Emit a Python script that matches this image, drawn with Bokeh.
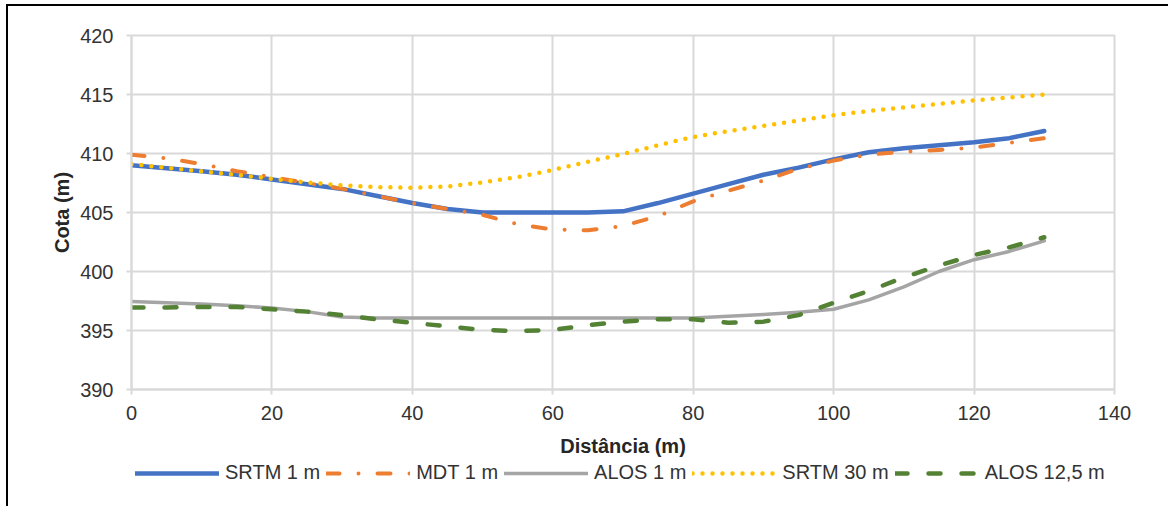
from bokeh.plotting import figure
from bokeh.layouts import column
from bokeh.models import Range1d, FixedTicker, Legend, LegendItem
from bokeh.embed import file_html
from bokeh.resources import INLINE

# ---- data ----
distancia = [0, 5, 10, 15, 20, 25, 30, 35, 40, 45, 50, 55, 60, 65, 70,
             75, 80, 85, 90, 95, 100, 105, 110, 115, 120, 125, 130]

srtm_1m = [409.0, 408.75, 408.5, 408.2, 407.8, 407.4, 407.0, 406.4, 405.8,
           405.3, 405.0, 405.0, 405.0, 405.0, 405.1, 405.8, 406.6, 407.4,
           408.2, 408.8, 409.5, 410.1, 410.45, 410.7, 410.95, 411.3, 411.9]

mdt_1m = [409.9, 409.6, 409.1, 408.5, 408.0, 407.5, 407.0, 406.4, 405.8,
          405.3, 404.8, 404.0, 403.55, 403.5, 403.85, 404.7, 405.95, 406.85,
          407.7, 408.7, 409.4, 409.9, 410.15, 410.3, 410.5, 410.9, 411.3]

alos_1m = [397.45, 397.35, 397.25, 397.1, 396.9, 396.6, 396.15, 396.05, 396.05,
           396.05, 396.05, 396.05, 396.05, 396.05, 396.05, 396.05, 396.05, 396.2,
           396.35, 396.55, 396.8, 397.6, 398.7, 400.0, 401.0, 401.7, 402.6]

srtm_30m = [409.1, 408.8, 408.5, 408.2, 407.85, 407.55, 407.3, 407.15, 407.1,
            407.2, 407.55, 408.0, 408.6, 409.3, 409.95, 410.7, 411.4, 411.9,
            412.35, 412.8, 413.25, 413.6, 413.9, 414.2, 414.5, 414.75, 415.0]

alos_12_5m = [396.95, 396.95, 397.0, 397.0, 396.8, 396.6, 396.3, 395.95, 395.65,
              395.35, 395.05, 394.95, 395.05, 395.45, 395.75, 395.95, 395.95, 395.65,
              395.75, 396.3, 397.35, 398.35, 399.5, 400.5, 401.4, 402.05, 402.9]

series_labels = ["SRTM 1 m", "MDT 1 m", "ALOS 1 m", "SRTM 30 m", "ALOS 12,5 m"]
x_ticks = [0, 20, 40, 60, 80, 100, 120, 140]
y_ticks = [390, 395, 400, 405, 410, 415, 420]
x_title = "Distância (m)"
y_title = "Cota (m)"

FONT = "Liberation Sans"
GRID = "#d9d9d9"
TXT = "#333333"

styles = [
    dict(line_color="#4472C4", line_width=4.5, line_cap="round", line_join="round"),
    dict(line_color="#ED7D31", line_width=4, line_cap="round", line_join="round",
         line_dash="13 19 0 19"),
    dict(line_color="#A5A5A5", line_width=3.5, line_cap="round", line_join="round"),
    dict(line_color="#FFC000", line_width=4.5, line_cap="round", line_join="round",
         line_dash="0 10"),
    dict(line_color="#548235", line_width=4.5, line_cap="round", line_join="round",
         line_dash="12 21"),
]
series_values = [srtm_1m, mdt_1m, alos_1m, srtm_30m, alos_12_5m]

# ---- main chart ----
p = figure(width=1160, height=453,
           x_range=Range1d(0, 140), y_range=Range1d(390, 420),
           output_backend="svg", toolbar_location=None,
           min_border_left=123, min_border_right=54,
           min_border_top=29, min_border_bottom=70)

p.background_fill_color = "white"
p.border_fill_color = "white"
p.outline_line_color = GRID
p.outline_line_width = 2

for g in (p.xgrid, p.ygrid):
    g.grid_line_color = GRID
    g.grid_line_width = 2

p.xaxis.ticker = FixedTicker(ticks=x_ticks)
p.yaxis.ticker = FixedTicker(ticks=y_ticks)

for ax in (p.xaxis, p.yaxis):
    ax.axis_line_color = GRID
    ax.axis_line_width = 2
    ax.major_tick_line_color = GRID
    ax.major_tick_line_width = 2
    ax.major_tick_out = 5
    ax.major_tick_in = 0
    ax.minor_tick_line_color = None
    ax.major_label_text_font = FONT
    ax.major_label_text_font_size = "20px"
    ax.major_label_text_color = TXT
    ax.axis_label_text_font = FONT
    ax.axis_label_text_font_size = "20px"
    ax.axis_label_text_font_style = "bold"
    ax.axis_label_text_color = "#262626"

p.xaxis.axis_label = x_title
p.yaxis.axis_label = y_title
p.xaxis.major_label_standoff = 11
p.xaxis.axis_label_standoff = 12
p.yaxis.major_label_standoff = 13
p.yaxis.axis_label_standoff = 4

for vals, st in zip(series_values, styles):
    p.line(distancia, vals, **st)

# ---- legend strip (its own canvas below the chart) ----
q = figure(width=1160, height=47, x_range=Range1d(0, 1), y_range=Range1d(0, 1),
           output_backend="svg", toolbar_location=None,
           x_axis_location=None, y_axis_location=None,
           min_border_left=0, min_border_right=0, min_border_top=0, min_border_bottom=0)
q.outline_line_color = None
q.background_fill_color = "white"
q.border_fill_color = "white"
q.xgrid.visible = False
q.ygrid.visible = False

# off-range single-point proxies: they only supply the legend swatches
leg_renderers = [q.line([-1], [-1], **st) for st in styles]
legend = Legend(items=[LegendItem(label=lab, renderers=[r])
                       for lab, r in zip(series_labels, leg_renderers)],
                orientation="horizontal", location=(4, 22),
                glyph_width=84, glyph_height=20, label_standoff=6, spacing=6,
                padding=0, margin=0,
                label_text_font=FONT, label_text_font_size="20px",
                label_text_color=TXT,
                background_fill_alpha=0, border_line_color=None)
q.add_layout(legend, "center")

layout = column(p, q, spacing=0)
layout.margin = (4, 0, 0, 6)
layout.styles = {"border-left": "2px solid #000000", "border-top": "2px solid #000000"}

open("out.html", "w").write(file_html(layout, INLINE))
